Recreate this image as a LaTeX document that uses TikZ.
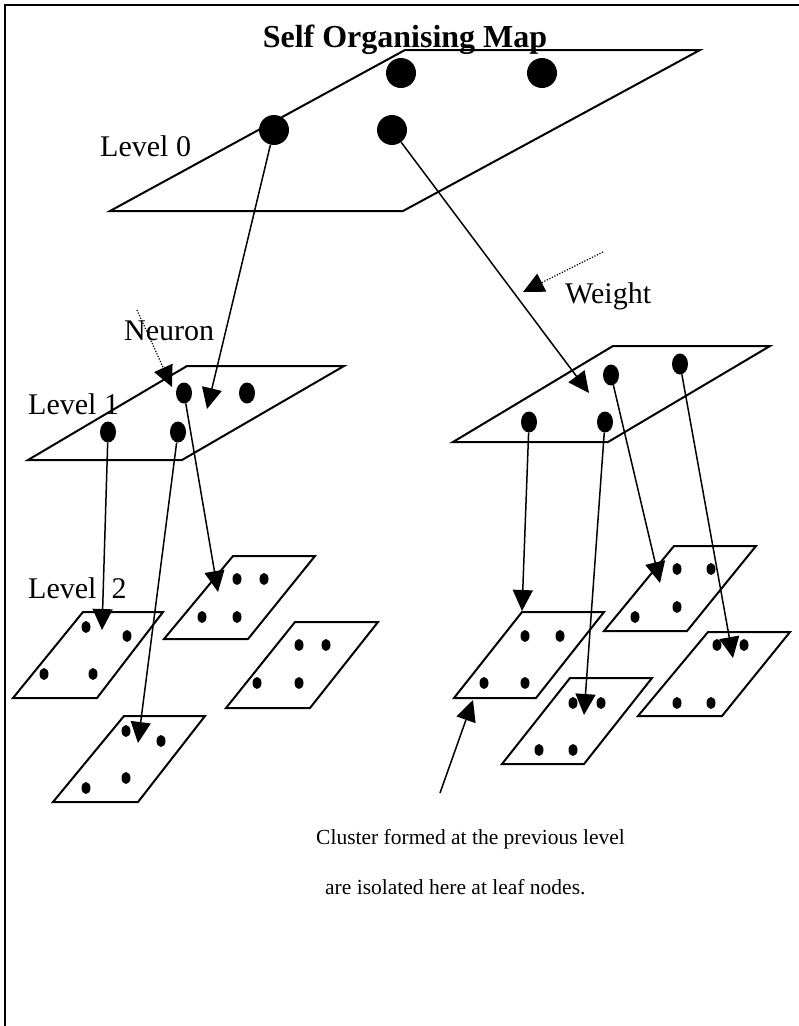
\documentclass[tikz,border=0pt]{standalone}
\usepackage{fontspec}
\setmainfont{Liberation Serif}
\usetikzlibrary{arrows.meta, shapes.geometric}

\begin{document}
\begin{tikzpicture}[x=1pt,y=-1pt,
  plane/.style={draw,line width=2pt,line join=miter},
  bigdot/.style={circle,fill,inner sep=0pt,minimum size=30pt},
  dot/.style={ellipse,fill,inner sep=0pt,minimum width=16pt,minimum height=21pt},
  smalldot/.style={ellipse,fill,inner sep=0pt,minimum width=9pt,minimum height=12pt},
  conn/.style={line width=1.5pt,-{Triangle[length=21pt,width=20pt]}},
  hint/.style={line width=1.2pt,dash pattern=on 1.2pt off 1.6pt,
               -{Triangle[length=21pt,width=20pt]}},
  lbl/.style={font=\fontsize{30}{36}\selectfont,inner sep=0pt,anchor=base west},
  note/.style={font=\fontsize{21.5}{26}\selectfont,inner sep=0pt,anchor=base west},
]
\useasboundingbox (0,0) rectangle (799,1026);
\draw[line width=2pt] (5,1026) -- (5,5) -- (799,5);

% planes
\draw[plane] (110,211) -- (403,211) -- (700,50) -- (405,50) -- cycle;
\draw[plane] (28,460) -- (182,460) -- (344,366) -- (187,366) -- cycle;
\draw[plane] (453,442) -- (608,442) -- (770,346) -- (613,346) -- cycle;
\draw[plane] (13,698) -- (97,698) -- (163,612) -- (83,612) -- cycle;
\draw[plane] (164,639) -- (248,639) -- (315,556) -- (233,556) -- cycle;
\draw[plane] (226,708) -- (310,708) -- (378,622) -- (295,622) -- cycle;
\draw[plane] (53,802) -- (138,802) -- (205,716) -- (124,716) -- cycle;
\draw[plane] (454,698) -- (536,698) -- (604,612) -- (522,612) -- cycle;
\draw[plane] (604,631) -- (687,631) -- (756,546) -- (674,546) -- cycle;
\draw[plane] (638,716) -- (722,716) -- (790,632) -- (708,632) -- cycle;
\draw[plane] (502,764) -- (584,764) -- (652,678) -- (570,678) -- cycle;

% neurons
\node[bigdot] (a1) at (274,130) {};
\node[bigdot] (a2) at (392,130) {};
\node[bigdot] (a3) at (401,73) {};
\node[bigdot] (a4) at (542,73) {};
\node[dot] (b1) at (184,393) {};
\node[dot] (b2) at (247,393) {};
\node[dot] (b3) at (108,432) {};
\node[dot] (b4) at (178,432) {};
\node[dot] (c1) at (611,375) {};
\node[dot] (c2) at (680,364) {};
\node[dot] (c3) at (529,422) {};
\node[dot] (c4) at (605,422) {};
\foreach [count=\i] \p in {(86,627),(127,636),(44,674),(93,674),
    (237,579),(264,579),(202,617),(237,617),
    (299,645),(326,645),(257,683),(299,683),
    (126,731),(161,741),(126,778),(86,788),
    (525,636),(560,636),(484,683),(525,683),
    (677,569),(711,569),(677,607),(635,617),
    (717,645),(744,645),(677,703),(711,703),
    (573,703),(601,703),(539,750),(573,750)}
  \node[smalldot] (s\i) at \p {};

% arrow ends
\coordinate (ta1) at (207,409);
\coordinate (ta2) at (589,393);
\coordinate (tb1) at (218,592);
\coordinate (tb3) at (102,630);
\coordinate (tb4) at (138,743);
\coordinate (tc1) at (660,583);
\coordinate (tc2) at (733,658);
\coordinate (tc3) at (522,611);
\coordinate (tc4) at (584,715);
\coordinate (nsrc) at (137,310);
\coordinate (ntip) at (172,387);
\coordinate (wsrc) at (603,252);
\coordinate (wtip) at (523,292);
\coordinate (csrc) at (440,793);
\coordinate (ctip) at (473,700);

\draw[conn] (a1) -- (ta1);
\draw[conn] (a2) -- (ta2);
\draw[conn] (b1) -- (tb1);
\draw[conn] (b3) -- (tb3);
\draw[conn] (b4) -- (tb4);
\draw[conn] (c1) -- (tc1);
\draw[conn] (c2) -- (tc2);
\draw[conn] (c3) -- (tc3);
\draw[conn] (c4) -- (tc4);
\draw[conn] (csrc) -- (ctip);
\draw[hint] (nsrc) -- (ntip);
\draw[hint] (wsrc) -- (wtip);

% labels
\node[font=\fontsize{32}{38}\selectfont\bfseries,inner sep=0pt,anchor=base] (title) at (405,47) {Self Organising Map};
\node[lbl] (lv0) at (100,156) {Level 0};
\node[lbl] (lv1) at (28,414) {Level 1};
\node[lbl] (lv2) at (28,598) {Level\ \ 2};
\node[lbl] (neuron) at (124,340) {Neuron};
\node[lbl] (weight) at (565,303) {Weight};
\node[note] (cl1) at (316,844) {Cluster formed at the previous level};
\node[note] (cl2) at (325,894) {are isolated here at leaf nodes.};
\end{tikzpicture}
\end{document}
